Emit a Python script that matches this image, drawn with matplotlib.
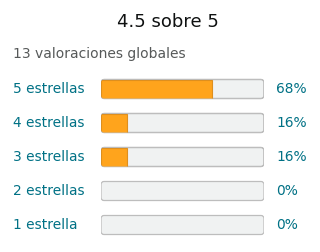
import matplotlib
matplotlib.use("Agg")
import matplotlib.pyplot as plt
from matplotlib.patches import FancyBboxPatch

title = "4.5 sobre 5"
subtitle = "13 valoraciones globales"
labels = ["5 estrellas", "4 estrellas", "3 estrellas", "2 estrellas", "1 estrella"]
percents = [68, 16, 16, 0, 0]

W, H = 320, 252
fig = plt.figure(figsize=(W / 100, H / 100), dpi=100)
fig.patch.set_facecolor("white")

fig.text(168 / W, 1 - 22 / H, title, ha="center", va="center",
         fontsize=13, color="#0F1111", family="DejaVu Sans")
fig.text(13 / W, 1 - 54 / H, subtitle, ha="left", va="center",
         fontsize=10, color="#565959", family="DejaVu Sans")

left, right = 101 / W, 264 / W
top, bottom = 1 - 72 / H, 1 - 242 / H
ax = fig.add_axes([left, bottom, right - left, top - bottom])
ax.set_xlim(0, 100)
ax.set_ylim(len(labels) - 0.5, -0.5)
ax.axis("off")

bar_h = 19 / 34
px_x = (264 - 101) / 100.0
px_y = 34.0
r_px = 3.0
rx = r_px / px_x
aspect = (r_px / px_y) / rx

for i, (lab, p) in enumerate(zip(labels, percents)):
    bg = FancyBboxPatch((0, i - bar_h / 2), 100, bar_h,
                        boxstyle=f"round,pad=0,rounding_size={rx}",
                        mutation_aspect=aspect,
                        facecolor="#F0F2F2", edgecolor="#BDBDBD",
                        linewidth=0.9, zorder=1)
    ax.add_patch(bg)
    if p > 0:
        bars = ax.barh(i, p, height=bar_h, color="#FFA41C",
                       edgecolor="#DE8F1E", linewidth=0.8, zorder=2)
        for b in bars:
            b.set_clip_path(bg)
        edge = FancyBboxPatch((0, i - bar_h / 2), 100, bar_h,
                              boxstyle=f"round,pad=0,rounding_size={rx}",
                              mutation_aspect=aspect,
                              facecolor="none", edgecolor="#BDBDBD",
                              linewidth=0.9, zorder=1.5)
        ax.add_patch(edge)
    ax.text(-88 / px_x, i, lab, ha="left", va="center", fontsize=9.9,
            color="#007185", family="DejaVu Sans", clip_on=False)
    ax.text(100 + 12 / px_x, i, f"{p}%", ha="left", va="center",
            fontsize=9.9, color="#007185", family="DejaVu Sans", clip_on=False)

fig.savefig("out.png", dpi=100, facecolor="white")
